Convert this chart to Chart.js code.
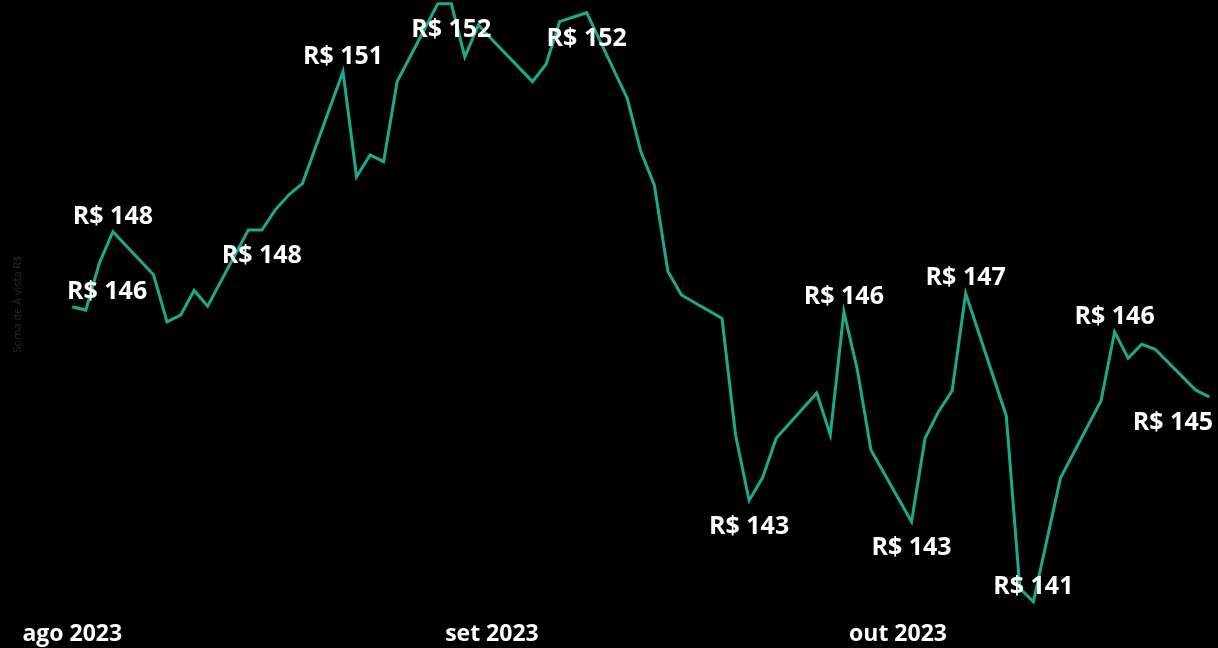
<!DOCTYPE html>
<html>
<head>
<meta charset="utf-8">
<script src="https://cdn.jsdelivr.net/npm/chart.js@4.4.0/dist/chart.umd.min.js"></script>
<style>
  html, body { margin: 0; background: #000; }
  #chart { display: block; }
</style>
</head>
<body>
<canvas id="chart" width="1218" height="648"></canvas>
<script>
// dias úteis (ago-out 2023) e soma de À vista R$
const dates = [
  '2023-08-01', '2023-08-02', '2023-08-03', '2023-08-04',
  '2023-08-07', '2023-08-08', '2023-08-09', '2023-08-10', '2023-08-11',
  '2023-08-14', '2023-08-15', '2023-08-16', '2023-08-17', '2023-08-18',
  '2023-08-21', '2023-08-22', '2023-08-23', '2023-08-24', '2023-08-25',
  '2023-08-28', '2023-08-29', '2023-08-30', '2023-08-31', '2023-09-01',
  '2023-09-04', '2023-09-05', '2023-09-06', '2023-09-08',
  '2023-09-11', '2023-09-12', '2023-09-13', '2023-09-14', '2023-09-15',
  '2023-09-18', '2023-09-19', '2023-09-20', '2023-09-21', '2023-09-22',
  '2023-09-25', '2023-09-26', '2023-09-27', '2023-09-28', '2023-09-29',
  '2023-10-02', '2023-10-03', '2023-10-04', '2023-10-05', '2023-10-06',
  '2023-10-09', '2023-10-10', '2023-10-11', '2023-10-13',
  '2023-10-16', '2023-10-17', '2023-10-18', '2023-10-19', '2023-10-20',
  '2023-10-23', '2023-10-24'
];
const values = [
  146.38, 146.32, 147.16, 147.72,
  146.95, 146.11, 146.23, 146.67, 146.39,
  147.75, 147.75, 148.11, 148.38, 148.58,
  150.58, 148.70, 149.09, 148.97, 150.40,
  151.79, 151.79, 150.84, 151.41, 151.15,
  150.40, 150.71, 151.47, 151.63,
  150.10, 149.15, 148.55, 147.01, 146.59,
  146.17, 144.09, 142.92, 143.33, 144.03,
  144.84, 144.09, 146.29, 145.25, 143.82,
  142.54, 144.03, 144.51, 144.88, 146.62,
  144.43, 141.35, 141.11, 143.32,
  144.70, 145.93, 145.46, 145.71, 145.62,
  144.89, 144.77
];
// pontos com rótulo de dados
const labelDates = ['2023-08-01', '2023-08-04', '2023-08-15', '2023-08-21', '2023-08-29', '2023-09-08',
  '2023-09-20', '2023-09-27', '2023-10-02', '2023-10-06', '2023-10-11', '2023-10-17', '2023-10-24'];
const labelSides = ['above', 'above', 'below', 'above', 'below', 'below',
  'below', 'above', 'below', 'above', 'above', 'above', 'below'];
const monthTicks = ['2023-08-01', '2023-09-01', '2023-10-01'];
const monthNames = ['ago 2023', 'set 2023', 'out 2023'];

const origin = Date.parse('2023-08-01');
const dayIndex = d => Math.round((Date.parse(d) - origin) / 86400000);

const pointLabels = {
  id: 'pointLabels',
  afterDatasetsDraw(chart) {
    const ctx = chart.ctx;
    const meta = chart.getDatasetMeta(0);
    ctx.save();
    ctx.font = 'bold 25px "Open Sans"';
    ctx.fillStyle = '#ffffff';
    ctx.textAlign = 'center';
    ctx.textBaseline = 'middle';
    labelDates.forEach((d, i) => {
      const idx = dates.indexOf(d);
      const pt = meta.data[idx];
      const text = 'R$ ' + Math.round(values[idx]);
      const w = ctx.measureText(text).width;
      const x = Math.min(Math.max(pt.x, 67 + w / 2), 1213 - w / 2);
      const y = labelSides[i] === 'above' ? pt.y - 15 : pt.y + 26;
      ctx.fillText(text, x, y);
    });
    ctx.restore();
  }
};

new Chart(document.getElementById('chart'), {
  type: 'line',
  data: {
    datasets: [{
      data: dates.map((d, i) => ({ x: dayIndex(d), y: values[i] })),
      borderColor: '#1BAA8C',
      borderWidth: 3,
      pointRadius: 0,
      tension: 0
    }]
  },
  options: {
    responsive: false,
    animation: false,
    layout: { padding: 0 },
    plugins: { legend: { display: false }, tooltip: { enabled: false } },
    scales: {
      x: {
        type: 'linear',
        min: -3.125,
        max: 84.64,
        grid: { display: false },
        border: { display: false },
        afterBuildTicks: ax => { ax.ticks = monthTicks.map(d => ({ value: dayIndex(d) })); },
        afterFit: ax => { ax.height = 40; },
        ticks: {
          color: '#ffffff',
          font: { family: '"Open Sans"', size: 23, weight: 'bold' },
          padding: 5,
          maxRotation: 0,
          autoSkip: false,
          callback: v => monthNames[monthTicks.map(dayIndex).indexOf(v)]
        }
      },
      y: {
        min: 141.0,
        max: 151.857,
        grid: { display: false },
        border: { display: false },
        ticks: { display: false },
        afterFit: ax => { ax.width = 30; },
        title: {
          display: true,
          text: 'Soma de À vista R$',
          color: '#2a2a2a',
          font: { family: '"Open Sans"', size: 11 },
          padding: { top: 11 }
        }
      }
    }
  },
  plugins: [pointLabels]
});
</script>
</body>
</html>
